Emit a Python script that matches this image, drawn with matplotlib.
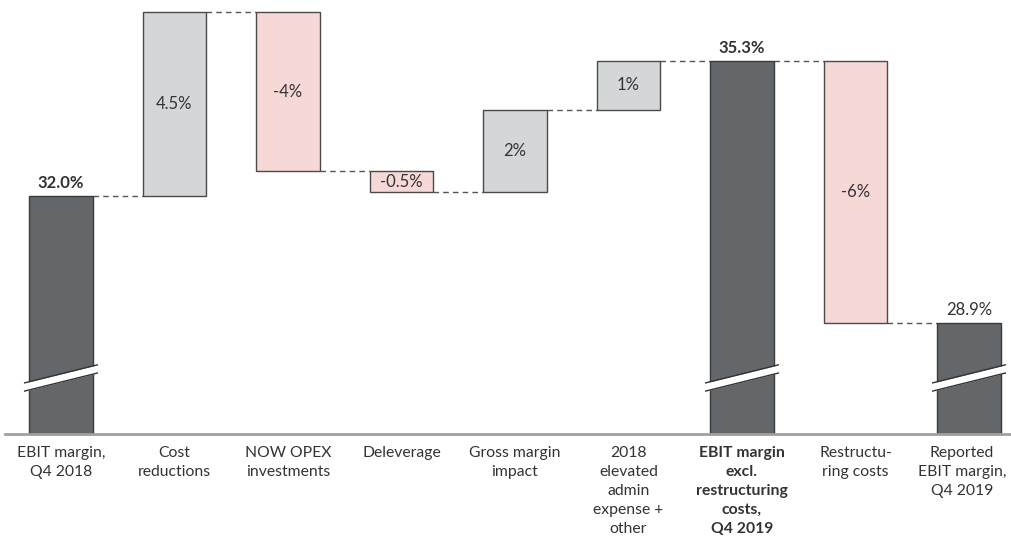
import matplotlib
matplotlib.use("Agg")
import matplotlib.pyplot as plt
import numpy as np

categories = ["EBIT margin,\nQ4 2018", "Cost\nreductions", "NOW OPEX\ninvestments", "Deleverage",
              "Gross margin\nimpact", "2018\nelevated\nadmin\nexpense +\nother",
              "EBIT margin\nexcl.\nrestructuring\ncosts,\nQ4 2019", "Restructu-\nring costs",
              "Reported\nEBIT margin,\nQ4 2019"]
values = [32.0, 4.5, -3.9, -0.5, 2.0, 1.2, 35.3, -6.4, 28.9]
kinds = ["total", "delta", "delta", "delta", "delta", "delta", "total", "delta", "total"]
value_labels = ["32.0%", "4.5%", "-4%", "-0.5%", "2%", "1%", "35.3%", "-6%", "28.9%"]
bold_value = [True, False, False, False, False, False, True, False, False]
bold_cat = [False, False, False, False, False, False, True, False, False]

plt.rcParams["font.family"] = ["Lato", "DejaVu Sans"]

TOTAL = "#646769"
POS = "#d4d7d8"
NEG = "#f6d8d7"
EDGE = "#4a4a4a"
TXT = "#333333"

fig = plt.figure(figsize=(10.11, 5.42), dpi=100)
ax = fig.add_axes([5 / 1011, 108 / 542, 1 - 5 / 1011, 1 - 108 / 542])
ymin, ymax = 26.18, 36.79
ax.set_ylim(ymin, ymax)
ax.set_xlim(-0.493, 8.37)

x = np.arange(len(values))
w = 0.56
level = 0.0
for i, (v, k) in enumerate(zip(values, kinds)):
    if k == "total":
        b, t = ymin, v
        level = v
        color = TOTAL
        ec = "#3a3a3a"
    else:
        b, t = level, level + v
        level = t
        color = POS if v > 0 else NEG
        ec = EDGE
    ax.bar(x[i], max(b, t) - min(b, t), bottom=min(b, t), width=w, color=color,
           edgecolor=ec, linewidth=1.0, zorder=2, clip_on=False)
    if k == "total":
        ax.text(x[i], t + 0.12, value_labels[i], ha="center", va="bottom", fontsize=12,
                fontweight="bold" if bold_value[i] else "normal", color=TXT)
        # break mark
        bx0, bx1 = x[i] - 0.32, x[i] + 0.32
        yc = 27.55
        dy = 0.22
        gap = 0.1
        xs = np.array([bx0, bx1])
        ys = np.array([yc - dy, yc + dy])
        ax.fill_between(xs, ys - gap, ys + gap, color="white", zorder=3, linewidth=0)
        ax.plot(xs, ys + gap, color="#333333", lw=1.0, zorder=4)
        ax.plot(xs, ys - gap, color="#333333", lw=1.0, zorder=4)
    else:
        ax.text(x[i], (b + t) / 2, value_labels[i], ha="center", va="center", fontsize=12, color=TXT)

# connectors
running = []
level = 0.0
for v, k in zip(values, kinds):
    level = v if k == "total" else level + v
    running.append(level)
for i in range(len(values) - 1):
    ax.plot([x[i] + w / 2, x[i + 1] - w / 2], [running[i], running[i]], ls=(0, (4, 3)),
            color="#555555", lw=1.0, zorder=1)

for s in ["top", "right", "left"]:
    ax.spines[s].set_visible(False)
ax.spines["bottom"].set_color("#a0a0a0")
ax.spines["bottom"].set_linewidth(2)
ax.set_yticks([])
ax.set_xticks(x)
ax.set_xticklabels([])
ax.tick_params(axis="x", length=0)

# category labels below the axis
for i, cat in enumerate(categories):
    dx = -7 if i == len(categories) - 1 else 0
    ax.annotate(cat, xy=(x[i], 0), xycoords=ax.get_xaxis_transform(),
                xytext=(dx, -12), textcoords="offset pixels", ha="center", va="top",
                fontsize=11.3, color=TXT, linespacing=1.46,
                fontweight="bold" if bold_cat[i] else "normal", annotation_clip=False)

fig.savefig("out.png", dpi=100)
